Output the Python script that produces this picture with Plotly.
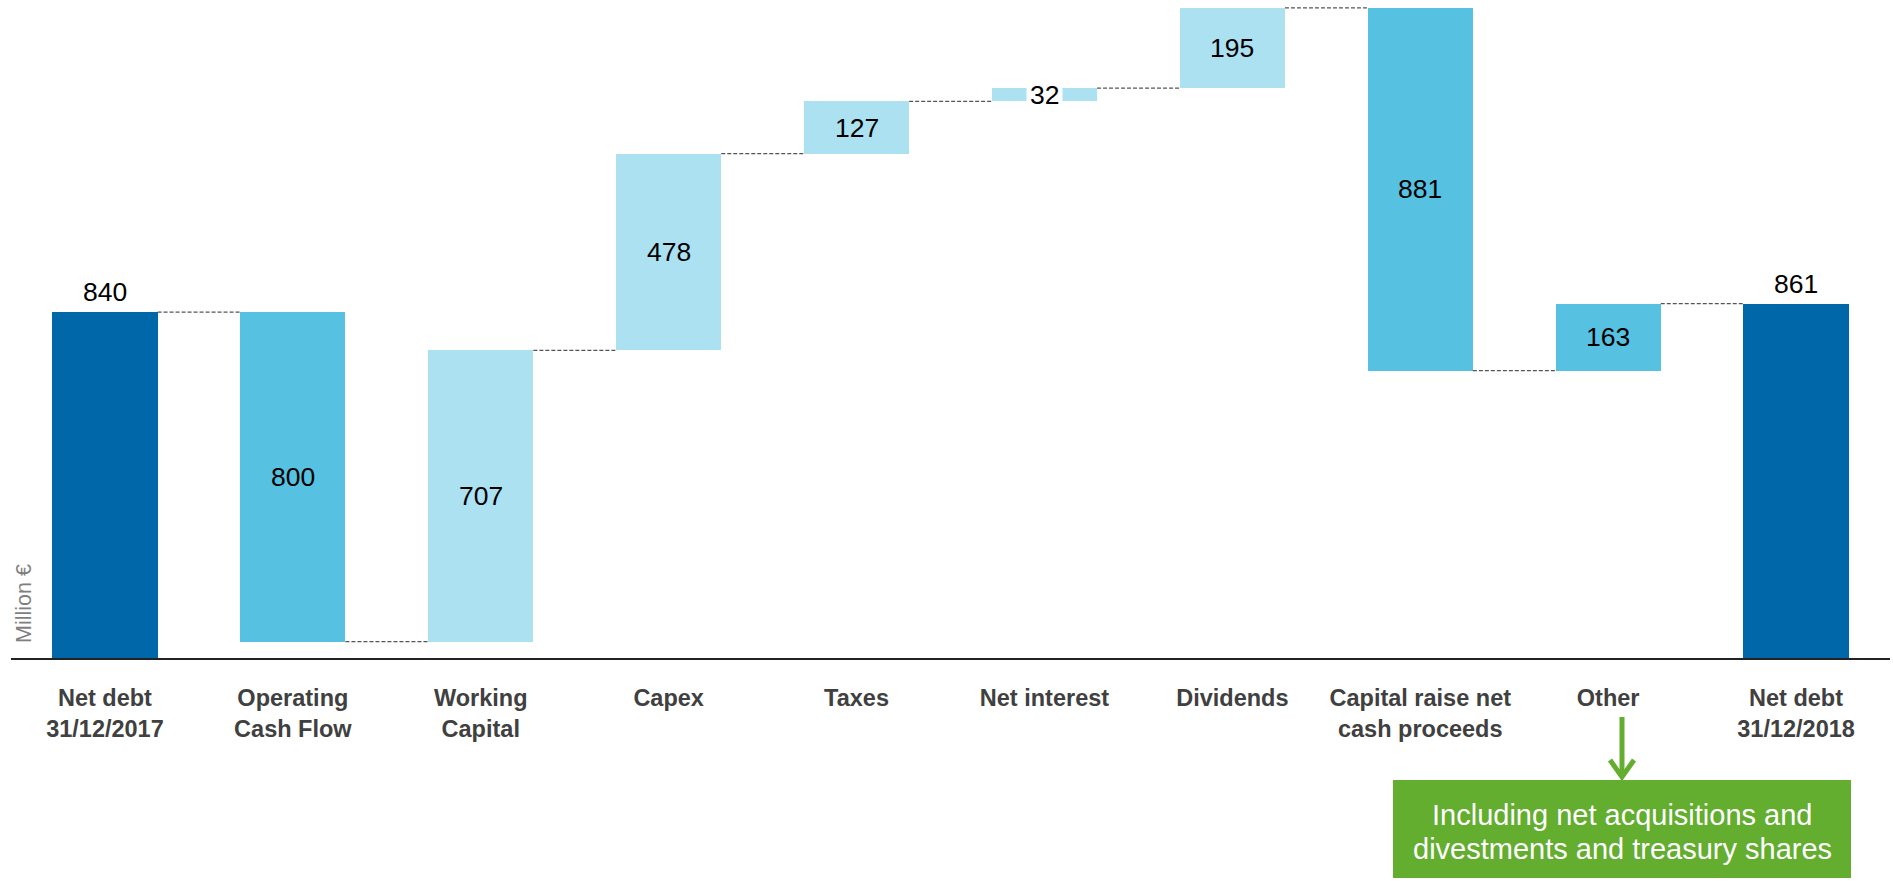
import plotly.graph_objects as go

# ---------------- data ----------------
categories = [
    "Net debt<br>31/12/2017",
    "Operating<br>Cash Flow",
    "Working<br>Capital",
    "Capex",
    "Taxes",
    "Net interest",
    "Dividends",
    "Capital raise net<br>cash proceeds",
    "Other",
    "Net debt<br>31/12/2018",
]
values = [840, -800, 707, 478, 127, 32, 195, -881, 163, 861]
measures = ["total", "relative", "relative", "relative", "relative",
            "relative", "relative", "relative", "relative", "total"]
value_labels = ["840", "800", "707", "478", "127", "32", "195", "881", "163", "861"]
note_text = ["Including net acquisitions and", "divestments and treasury shares"]
y_title = "Million €"

# ---------------- styles ----------------
DARK = "#0067A8"
MID = "#56C1E1"
LIGHT = "#ABE1F0"
GREEN = "#63AD2F"
bar_colors = [DARK, MID, LIGHT, LIGHT, LIGHT, LIGHT, LIGHT, MID, MID, DARK]
BAR_W = 0.56
FONT = "Liberation Sans, Arial, sans-serif"

W, H = 1893, 881
ML, MR, MT, MB = 11, 3, 0, 223
PW = W - ML - MR
PH = H - MT - MB


def px(xp):
    return (xp - ML) / PW


def py(yp):
    return (H - MB - yp) / PH


# waterfall geometry from data
bases, heights, levels = [], [], []
running = 0
for v, m in zip(values, measures):
    if m == "total":
        bases.append(0)
        heights.append(v)
        running = v
    else:
        if v >= 0:
            bases.append(running)
            heights.append(v)
        else:
            bases.append(running + v)
            heights.append(-v)
        running += v
    levels.append(running)

xs = list(range(len(categories)))

fig = go.Figure()
fig.add_trace(go.Bar(
    x=xs, y=heights, base=bases, width=BAR_W,
    marker=dict(color=bar_colors, line=dict(width=0)),
    hoverinfo="skip", showlegend=False,
))

shapes = []
# connectors
for i in range(len(xs) - 1):
    shapes.append(dict(
        type="line", xref="x", yref="y",
        x0=xs[i] + BAR_W / 2, x1=xs[i + 1] - BAR_W / 2,
        y0=levels[i], y1=levels[i],
        line=dict(color="#555555", width=1.3, dash="4px,2px"),
    ))

annotations = []
for i, (lab, m) in enumerate(zip(value_labels, measures)):
    if m == "total":
        annotations.append(dict(
            x=xs[i], y=bases[i] + heights[i], xref="x", yref="y",
            text=lab, showarrow=False, yanchor="middle", yshift=20,
            font=dict(family=FONT, size=26.5, color="black"),
        ))
    else:
        small = heights[i] < 60
        annotations.append(dict(
            x=xs[i], y=bases[i] + heights[i] / 2, xref="x", yref="y",
            text=lab, showarrow=False, yanchor="middle",
            font=dict(family=FONT, size=26.5, color="black"),
            bgcolor="white" if small else None, borderpad=3 if small else 0,
        ))

# y-axis title
annotations.append(dict(
    x=px(24), y=py(604), xref="paper", yref="paper", text=y_title,
    textangle=-90, showarrow=False, xanchor="center", yanchor="middle",
    font=dict(family=FONT, size=21.5, color="#7F7F7F"),
))

# green note box + arrow
shapes.append(dict(type="rect", xref="paper", yref="paper",
                   x0=px(1393), x1=px(1851), y0=py(780), y1=py(878),
                   fillcolor=GREEN, line=dict(width=0), layer="above"))
shapes.append(dict(type="line", xref="paper", yref="paper",
                   x0=px(1622), x1=px(1622), y0=py(717), y1=py(776),
                   line=dict(color=GREEN, width=5)))
shapes.append(dict(type="path", xref="paper", yref="paper",
                   path=f"M {px(1610)},{py(760)} L {px(1622)},{py(777)} L {px(1634)},{py(760)}",
                   line=dict(color=GREEN, width=5)))
for t, yc in zip(note_text, [815, 849]):
    annotations.append(dict(
        x=px(1622), y=py(yc), xref="paper", yref="paper", text=t,
        showarrow=False, xanchor="center", yanchor="middle",
        font=dict(family=FONT, size=29, color="white"),
    ))

fig.update_layout(
    width=W, height=H,
    margin=dict(l=ML, r=MR, t=MT, b=MB, pad=0),
    plot_bgcolor="white", paper_bgcolor="white",
    shapes=shapes, annotations=annotations,
    bargap=0,
    xaxis=dict(
        range=[-0.5, len(xs) - 0.5],
        tickmode="array", tickvals=xs,
        ticktext=[f"<b>{c}</b>" for c in categories],
        tickfont=dict(family=FONT, size=23.5, color="#404040"),
        showline=True, linecolor="#222222", linewidth=2,
        showgrid=False, zeroline=False, ticks="", ticklabelstandoff=18,
        fixedrange=True,
    ),
    yaxis=dict(
        range=[0, PH / 0.4117], showgrid=False, zeroline=False,
        showticklabels=False, showline=False, fixedrange=True,
    ),
)

fig.write_html("out.html", post_script="document.body.style.margin='0';",
               config={"displayModeBar": False})
